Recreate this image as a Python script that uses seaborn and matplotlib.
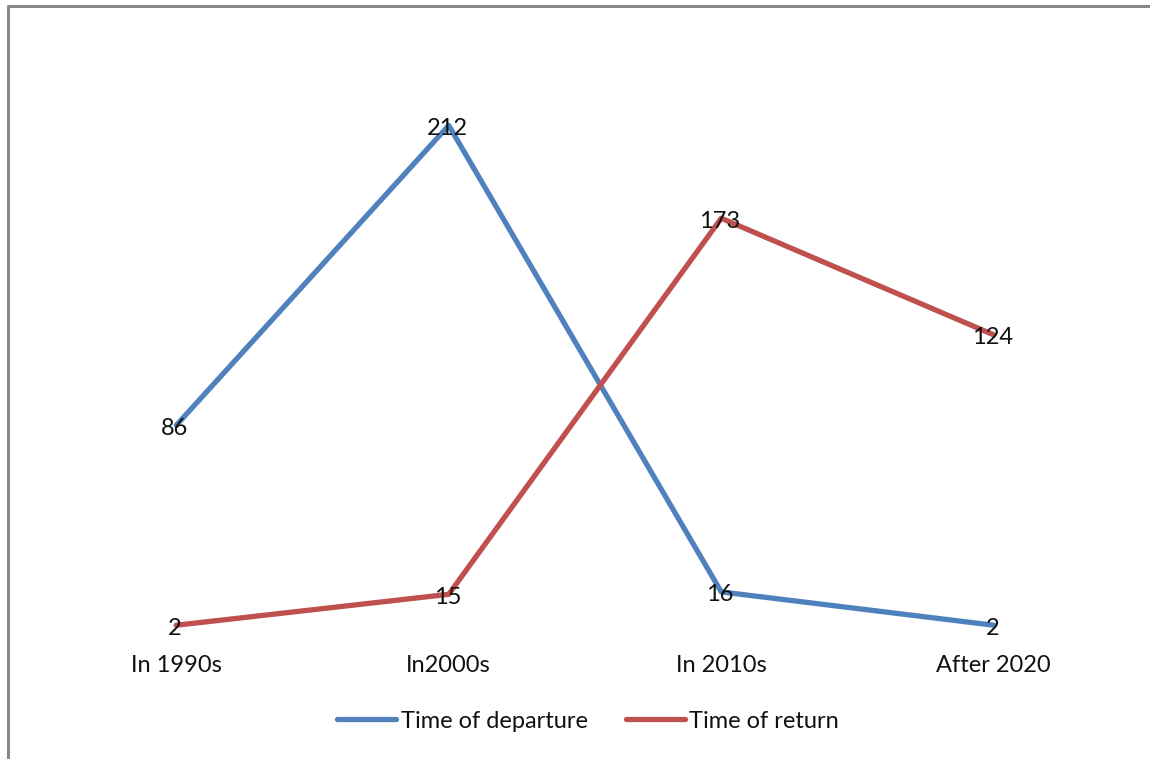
import matplotlib
matplotlib.use("Agg")
import matplotlib.pyplot as plt
from matplotlib.lines import Line2D
import seaborn as sns
import pandas as pd

# Data
periods = ["In 1990s", "In2000s", "In 2010s", "After 2020"]
departure = [86, 212, 16, 2]
return_ = [2, 15, 173, 124]
series_names = ["Time of departure", "Time of return"]
colors = ["#4F81BD", "#C0504D"]

df = pd.DataFrame({
    "period": periods * 2,
    "pos": list(range(len(periods))) * 2,
    "value": departure + return_,
    "series": [series_names[0]] * len(periods) + [series_names[1]] * len(periods),
})

sns.set_theme(style="white")
plt.rcParams["font.family"] = ["Lato", "DejaVu Sans"]

fig = plt.figure(figsize=(11.5, 7.59), dpi=100)
ax = fig.add_axes([40 / 1150, 129 / 759, 1090 / 1150, 595 / 759])

sns.lineplot(data=df, x="pos", y="value", hue="series",
             palette=dict(zip(series_names, colors)), linewidth=3.8,
             ax=ax, legend=False, sort=False)
for line in ax.get_lines():
    line.set_solid_capstyle("round")

# Value labels centred on each point
for vals in (departure, return_):
    for i, v in enumerate(vals):
        ax.annotate(str(v), (i, v), xytext=(-1, -2), textcoords="offset points",
                    ha="center", va="center", fontsize=17, color="#111111")

ax.set_xlim(-0.5, len(periods) - 0.5)
ax.set_ylim(0, 250)
ax.set_xticks(range(len(periods)))
ax.set_xticklabels(periods, fontsize=17, color="#111111")
ax.tick_params(axis="x", length=0, pad=18)
ax.set_yticks([])
ax.set_xlabel("")
ax.set_ylabel("")
for s in ax.spines.values():
    s.set_visible(False)

handles = [Line2D([0], [0], color=c, lw=3.8, solid_capstyle="round") for c in colors]
fig.legend(handles, series_names, loc="center", bbox_to_anchor=(588 / 1150, 1 - 721 / 759),
           ncol=2, frameon=False, fontsize=17, handlelength=2.5,
           handletextpad=0.2, columnspacing=1.6, labelcolor="#111111")

# Chart frame (top and left edges)
frame_color = "#888888"
fig.add_artist(Line2D([8 / 1150, 1.0], [1 - 6 / 759, 1 - 6 / 759],
                      transform=fig.transFigure, color=frame_color, lw=2.2))
fig.add_artist(Line2D([8 / 1150, 8 / 1150], [0, 1 - 6 / 759],
                      transform=fig.transFigure, color=frame_color, lw=2.2))

fig.savefig("out.png", dpi=100, facecolor="white")
